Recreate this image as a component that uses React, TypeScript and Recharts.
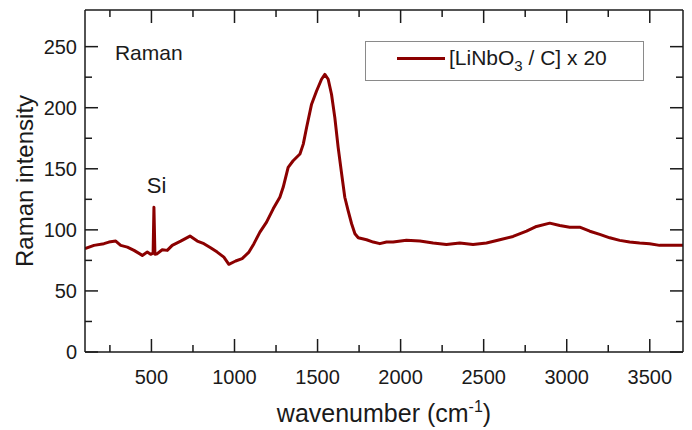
import React from 'react';
import { LineChart, Line, XAxis, YAxis, ReferenceDot, Legend } from 'recharts';

const wavenumber = [
  100, 154, 214, 244, 285, 315, 355, 395, 445, 475, 495, 510, 515, 521, 535, 565, 595, 625, 676, 732,
  776, 816, 856, 896, 936, 966, 1007, 1046, 1087, 1117, 1153, 1193, 1233, 1273, 1293, 1323, 1353, 1394,
  1414, 1434, 1464, 1494, 1524, 1544, 1564, 1584, 1604, 1624, 1645, 1664, 1684, 1705, 1725, 1745, 1795,
  1835, 1875, 1915, 1955, 2035, 2116, 2196, 2276, 2356, 2436, 2517, 2597, 2677, 2758, 2818, 2898, 2958,
  3018, 3078, 3139, 3199, 3259, 3319, 3379, 3439, 3499, 3559, 3619, 3700,
];
const intensity = [
  84.6, 87.3, 88.7, 90, 90.8, 87.3, 85.9, 83.2, 79.1, 81.8, 80, 81, 118.5, 80, 80.5, 83.7, 83.2, 87.3, 90.8, 94.9,
  90.8, 88.7, 85.4, 81.8, 77.7, 71.8, 74.5, 76.4, 81.8, 88.7, 98.1, 106.3, 117.2, 126.7, 134.8, 151.2, 156.6, 162.1,
  170.2, 183.8, 202.9, 213.7, 223.3, 227.3, 223.3, 211, 191.9, 167.5, 145.8, 126.7, 115.8, 105, 96.8, 93.5, 91.9,
  90, 88.7, 90, 90, 91.4, 90.8, 89.2, 88.1, 89.2, 88.1, 89.2, 91.9, 94.6, 98.9, 102.8, 105.5, 103.6,
  102.2, 102.2, 98.9, 96.3, 93.5, 91.4, 90, 89.2, 88.7, 87.3, 87.3, 87.3,
];
const xTicks = [250, 500, 750, 1000, 1250, 1500, 1750, 2000, 2250, 2500, 2750, 3000, 3250, 3500];
const yTicks = [0, 25, 50, 75, 100, 125, 150, 175, 200, 225, 250];

const data = wavenumber.map((w, i) => ({ w, v: intensity[i] }));

const FONT = '"Liberation Sans", Arial, sans-serif';
const RED = '#8B0000';
const INK = '#1a1a1a';

const BottomTick = (props: any) => {
  const { x, y, payload } = props;
  const major = payload.value % 500 === 0;
  return (
    <g>
      <line x1={x} x2={x} y1={y} y2={y - (major ? 13 : 7)} stroke={INK} strokeWidth={1.5} />
      {major && (
        <text x={x} y={y + 32} textAnchor="middle" fontSize={20} fontFamily={FONT} fill={INK}>
          {payload.value}
        </text>
      )}
    </g>
  );
};

const TopTick = (props: any) => {
  const { x, y, payload } = props;
  const major = payload.value % 500 === 0;
  return <line x1={x} x2={x} y1={y} y2={y + (major ? 13 : 7)} stroke={INK} strokeWidth={1.5} />;
};

const LeftTick = (props: any) => {
  const { x, y, payload } = props;
  const major = payload.value % 50 === 0;
  return (
    <g>
      <line x1={x} x2={x + (major ? 13 : 7)} y1={y} y2={y} stroke={INK} strokeWidth={1.5} />
      {major && (
        <text x={x - 8} y={y + 7} textAnchor="end" fontSize={20} fontFamily={FONT} fill={INK}>
          {payload.value}
        </text>
      )}
    </g>
  );
};

const RightTick = (props: any) => {
  const { x, y, payload } = props;
  const major = payload.value % 50 === 0;
  return <line x1={x} x2={x - (major ? 13 : 7)} y1={y} y2={y} stroke={INK} strokeWidth={1.5} />;
};

const textAt = (text: string, size: number) => (props: any) => {
  const { viewBox } = props;
  return (
    <text x={viewBox.x} y={viewBox.y} textAnchor="middle" fontSize={size} fontFamily={FONT} fill={INK}>
      {text}
    </text>
  );
};

const LegendBox = () => (
  <div
    style={{
      width: 277,
      height: 38,
      border: '1px solid #8a8a8a',
      background: '#fff',
      position: 'relative',
      fontFamily: FONT,
      fontSize: 21,
      color: INK,
    }}
  >
    <svg width={90} height={38} style={{ position: 'absolute', left: 0, top: 0 }}>
      <line x1={31} x2={79} y1={16.5} y2={16.5} stroke={RED} strokeWidth={3} />
    </svg>
    <div style={{ position: 'absolute', left: 83, top: 4, whiteSpace: 'nowrap', lineHeight: '24px' }}>
      [LiNbO<sub style={{ fontSize: 15, verticalAlign: -6, lineHeight: 0 }}>3</sub> / C] x 20
    </div>
  </div>
);

export default function App() {
  return (
    <div style={{ position: 'absolute', left: 0, top: 0, width: 692, height: 430, background: '#fff' }}>
      <LineChart width={692} height={430} data={data} margin={{ top: 9, right: 8, bottom: 0, left: 0 }}>
        <XAxis
          xAxisId="x"
          dataKey="w"
          type="number"
          domain={[100, 3700]}
          ticks={xTicks}
          interval={0}
          allowDataOverflow
          height={78}
          tickSize={0}
          tickMargin={0}
          tickLine={false}
          tick={<BottomTick />}
          axisLine={{ stroke: INK, strokeWidth: 1.5 }}
          label={{
            content: () => (
              <text x={384} y={422} textAnchor="middle" fontSize={25} fontFamily={FONT} fill={INK}>
                wavenumber (cm
                <tspan fontSize={16} dy={-10}>-1</tspan>
                <tspan dy={10}>)</tspan>
              </text>
            ),
          }}
        />
        <XAxis
          xAxisId="xt"
          dataKey="w"
          orientation="top"
          type="number"
          domain={[100, 3700]}
          ticks={xTicks}
          interval={0}
          allowDataOverflow
          height={1}
          tickSize={0}
          tickMargin={0}
          tickLine={false}
          tick={<TopTick />}
          axisLine={{ stroke: INK, strokeWidth: 1.5 }}
        />
        <YAxis
          yAxisId="y"
          type="number"
          domain={[0, 280]}
          ticks={yTicks}
          interval={0}
          allowDataOverflow
          width={85}
          tickSize={0}
          tickMargin={0}
          tickLine={false}
          tick={<LeftTick />}
          axisLine={{ stroke: INK, strokeWidth: 1.5 }}
          label={{
            content: () => (
              <text
                x={33}
                y={181}
                transform="rotate(-90 33 181)"
                textAnchor="middle"
                fontSize={24}
                fontFamily={FONT}
                fill={INK}
              >
                Raman intensity
              </text>
            ),
          }}
        />
        <YAxis
          yAxisId="yr"
          orientation="right"
          type="number"
          domain={[0, 280]}
          ticks={yTicks}
          interval={0}
          allowDataOverflow
          width={1}
          tickSize={0}
          tickMargin={0}
          tickLine={false}
          tick={<RightTick />}
          axisLine={{ stroke: INK, strokeWidth: 1.5 }}
        />
        <Legend
          layout="horizontal"
          verticalAlign="middle"
          align="center"
          content={() => <LegendBox />}
          wrapperStyle={{ position: 'absolute', left: 365, top: 41, width: 279, height: 40 }}
        />
        {/* hidden twin series so the mirrored top/right axes get drawn */}
        <Line
          xAxisId="xt"
          yAxisId="yr"
          type="linear"
          dataKey="v"
          stroke="none"
          dot={false}
          legendType="none"
          isAnimationActive={false}
        />
        <Line
          xAxisId="x"
          yAxisId="y"
          type="linear"
          dataKey="v"
          stroke={RED}
          strokeWidth={3}
          strokeLinejoin="round"
          dot={false}
          isAnimationActive={false}
        />
        <ReferenceDot xAxisId="x" yAxisId="y" x={484} y={239} r={0} stroke="none" label={{ content: textAt('Raman', 21) }} />
        <ReferenceDot xAxisId="x" yAxisId="y" x={531} y={130} r={0} stroke="none" label={{ content: textAt('Si', 22) }} />
      </LineChart>
    </div>
  );
}
